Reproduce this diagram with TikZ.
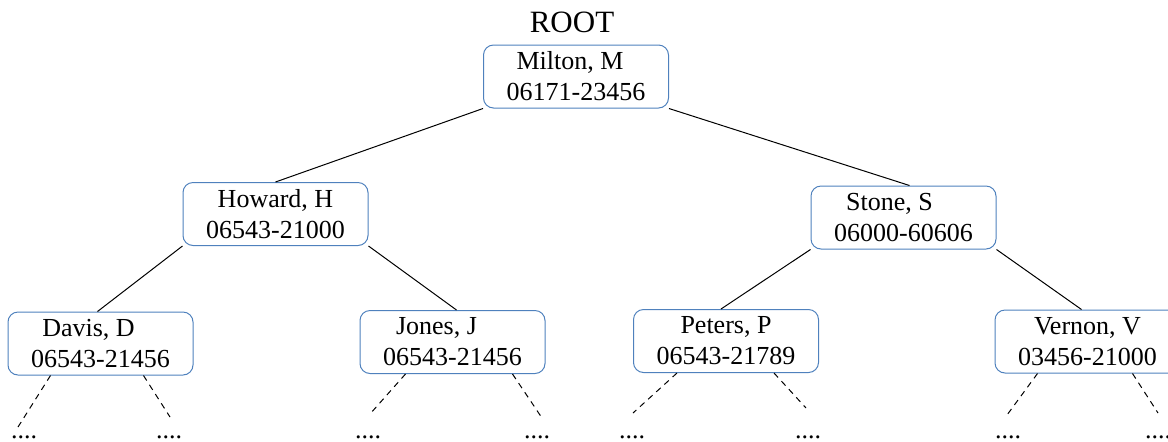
\documentclass[tikz,border=0pt]{standalone}
\usepackage{fontspec}
\setmainfont{Liberation Serif}
\usepackage{xcolor}
\usepackage{tikz}
\usetikzlibrary{calc}

\definecolor{boxblue}{RGB}{79,129,189}

\begin{document}
\begin{tikzpicture}[x=0.5pt,y=-0.5pt,
    card/.style={draw=boxblue,line width=0.5pt,rounded corners=5pt,
      minimum width=92.5pt,minimum height=31.5pt,inner sep=0pt,
      align=center,font=\fontsize{13}{15.5}\selectfont,
      execute at begin node=\rule{0pt}{12pt}},
    link/.style={black,line width=0.5pt},
    stub/.style={black,line width=0.5pt,dash pattern=on 3pt off 2.5pt},
    dots/.style={anchor=base,inner sep=0pt,font=\fontsize{13}{15}\selectfont}]
    \useasboundingbox (0,0) rectangle (1168,441);
    % root of the tree
    \node[anchor=base,font=\fontsize{15.5}{18}\selectfont] (rootlabel) at (572,32) {ROOT};
    \node[card] (milton) at (576,76.5) {Milton, M\hspace*{6pt}\\06171-23456};
    % second level
    \node[card] (howard) at (275.5,214) {Howard, H\\06543-21000};
    \node[card] (stone) at (903.5,217.5) {Stone, S\hspace*{14pt}\\06000-60606};
    % third level
    \node[card] (davis) at (100.5,343.5) {Davis, D\hspace*{12pt}\\06543-21456};
    \node[card] (jones) at (452.5,342) {Jones, J\hspace*{16pt}\\06543-21456};
    \node[card] (peters) at (726,341) {Peters, P\\06543-21789};
    \node[card] (vernon) at (1087.5,341.5) {Vernon, V\\03456-21000};
    % branches
    \draw[link] (milton.south west) -- (howard.north);
    \draw[link] (milton.south east) -- ([xshift=3pt]stone.north);
    \draw[link] (howard.south west) -- ([xshift=-1.5pt]davis.north);
    \draw[link] (howard.south east) -- ([xshift=2pt]jones.north);
    \draw[link] (stone.south west) -- ([xshift=-2.5pt]peters.north);
    \draw[link] (stone.south east) -- ([xshift=-3pt]vernon.north);
    % open ends below the leaves
    \coordinate (davisL) at (18,427);
    \coordinate (davisR) at (170,417);
    \coordinate (jonesL) at (370,414);
    \coordinate (jonesR) at (542,418);
    \coordinate (petersL) at (633,413);
    \coordinate (petersR) at (806,408);
    \coordinate (vernonL) at (1007,415);
    \coordinate (vernonR) at (1158,413);
    \draw[stub] ([xshift=-25pt]davis.south) -- (davisL);
    \draw[stub] ([xshift=21.5pt]davis.south) -- (davisR);
    \draw[stub] ([xshift=-23.5pt]jones.south) -- (jonesL);
    \draw[stub] ([xshift=30pt]jones.south) -- (jonesR);
    \draw[stub] ([xshift=-24.5pt]peters.south) -- (petersL);
    \draw[stub] ([xshift=24pt]peters.south) -- (petersR);
    \draw[stub] ([xshift=-25pt]vernon.south) -- (vernonL);
    \draw[stub] ([xshift=22.5pt]vernon.south) -- (vernonR);
    \node[dots] (davisLd) at (24,438) {....};
    \node[dots] (davisRd) at (169,438) {....};
    \node[dots] (jonesLd) at (368,438) {....};
    \node[dots] (jonesRd) at (537,438) {....};
    \node[dots] (petersLd) at (632,438) {....};
    \node[dots] (petersRd) at (808,438) {....};
    \node[dots] (vernonLd) at (1008,438) {....};
    \node[dots] (vernonRd) at (1158,438) {....};
  \end{tikzpicture}
\end{document}
